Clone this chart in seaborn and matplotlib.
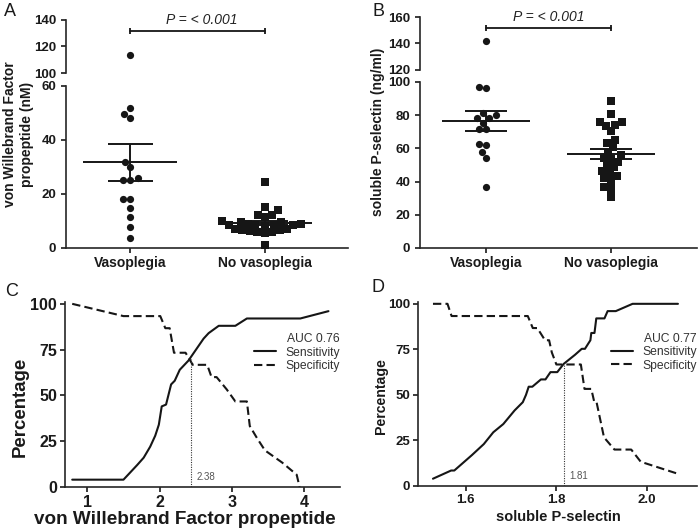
import numpy as np
import matplotlib
matplotlib.use('Agg')
import matplotlib.pyplot as plt
import seaborn as sns

sns.set_style('ticks')
plt.rcParams['font.family'] = ['Liberation Sans', 'DejaVu Sans']
plt.rcParams['font.weight'] = 'bold'
plt.rcParams['axes.linewidth'] = 1.2
plt.rcParams['text.color'] = '#1a1a1a'

INK = '#161616'

groups = ['Vasoplegia', 'No vasoplegia']

# A: von Willebrand Factor propeptide (nM)
vwf_vaso = [113.3, 52.0, 49.6, 48.1, 32.0, 30.1, 25.2, 25.2, 25.8, 18.0, 18.3,
            14.8, 11.4, 7.7, 3.7]
vwf_novaso = [24.3, 15.1, 13.9, 12.4, 12.2, 11.3, 10.0, 9.8, 9.6, 8.9, 8.8, 8.7,
              8.6, 8.5, 8.4, 8.3, 7.2, 7.0, 6.8, 6.5, 6.2, 6.0, 5.8, 5.6, 1.2]

# B: soluble P-selectin (ng/ml)
psel_vaso = [141.8, 96.8, 96.2, 81.2, 80.0, 78.2, 78.2, 75.6, 71.7, 71.7, 62.7,
             62.1, 58.1, 54.5, 36.7]
psel_novaso = [88.7, 80.7, 76.1, 74.1, 70.3, 73.5, 75.7, 65.1, 63.5, 60.7, 57.4,
               56.0, 54.0, 52.0, 50.0, 53.4, 48.6, 46.4, 43.4, 45.0, 42.0, 40.5,
               36.9, 35.7, 30.5]

# C: ROC, von Willebrand Factor propeptide
vwf_sens_x = [0.79, 1.50, 1.69, 1.78, 1.87, 1.94, 1.99, 2.03, 2.09, 2.16, 2.21,
              2.28, 2.40, 2.47, 2.54, 2.61, 2.68, 2.82, 3.05, 3.21, 3.95, 4.34]
vwf_sens_y = [4, 4, 12, 16, 22, 28, 34, 44, 45, 56, 58, 64, 69, 73, 77, 81, 84,
              88, 88, 92, 92, 96]
vwf_spec_x = [0.79, 1.50, 2.01, 2.08, 2.14, 2.20, 2.36, 2.46, 2.66, 2.72, 2.79,
              2.93, 3.05, 3.21, 3.25, 3.35, 3.46, 3.70, 3.90, 3.94]
vwf_spec_y = [100, 93.3, 93.3, 86.7, 86.7, 73.3, 73.3, 66.7, 66.7, 60, 60, 53.3,
              46.7, 46.7, 33.3, 26.7, 20, 13.3, 6.7, 0]
vwf_cut, vwf_cut_y, vwf_cut_text, vwf_auc = 2.43, 70, '2.38', 'AUC 0.76'

# D: ROC, soluble P-selectin
psel_sens_x = [1.528, 1.568, 1.575, 1.614, 1.640, 1.661, 1.683, 1.708, 1.726,
               1.733, 1.739, 1.747, 1.766, 1.776, 1.787, 1.802, 1.816, 1.841,
               1.856, 1.863, 1.875, 1.877, 1.884, 1.888, 1.906, 1.913, 1.931,
               1.968, 2.068]
psel_sens_y = [4, 8.5, 8.5, 17, 23, 29.5, 34, 41.5, 46, 50, 54.5, 54.5, 58.5,
               58.5, 62.5, 62.5, 67, 72, 75.3, 75.3, 80, 84, 84, 92, 92, 96, 96,
               100, 100]
psel_spec_x = [1.528, 1.560, 1.569, 1.737, 1.748, 1.758, 1.775, 1.784, 1.790,
               1.800, 1.854, 1.862, 1.877, 1.883, 1.888, 1.905, 1.928, 1.965,
               1.986, 2.068]
psel_spec_y = [100, 100, 93.3, 93.3, 86.7, 86.7, 80, 80, 73.3, 66.7, 66.7, 53.3,
               53.3, 46.7, 46.7, 26.7, 20, 20, 13.3, 6.7]
psel_cut, psel_cut_y, psel_cut_text, psel_auc = 1.816, 67, '1.81', 'AUC 0.77'

W, H = 700, 530


def box(left, top, right, bottom):
    # pixel box -> figure fraction rect
    return [left / W, 1 - bottom / H, (right - left) / W, (bottom - top) / H]


def dot_panel(ax_top, ax_bot, vaso, novaso, top_lim, bot_lim, top_ticks,
              bot_ticks, xlim, p_y, p_text_x):
    for ax, lim in ((ax_top, top_lim), (ax_bot, bot_lim)):
        for vals, grp, mk in ((vaso, groups[0], 'o'), (novaso, groups[1], 's')):
            vals = np.asarray(vals)
            keep = vals[(vals >= lim[0]) & (vals <= lim[1])]
            if len(keep):
                sns.swarmplot(x=[grp] * len(keep), y=keep, order=groups,
                              marker=mk, color=INK, size=5.2, ax=ax)
        ax.set_ylim(lim)
        ax.set_xlim(xlim)
        ax.tick_params(axis='both', labelsize=9.5, length=3.6, width=1.2,
                       colors='#1a1a1a')
    ax_top.set_yticks(top_ticks)
    ax_bot.set_yticks(bot_ticks)
    sns.despine(ax=ax_bot)
    sns.despine(ax=ax_top, bottom=True)
    ax_top.tick_params(axis='x', bottom=False, labelbottom=False)
    ax_bot.tick_params(axis='x', labelsize=10, pad=2)

    # mean +/- SEM
    for i, vals in enumerate((vaso, novaso)):
        m = np.mean(vals)
        se = np.std(vals, ddof=1) / np.sqrt(len(vals))
        ax_bot.hlines(m, i - 0.35, i + 0.35, color=INK, lw=1.4, zorder=5)
        ax_bot.hlines([m - se, m + se], i - 0.17, i + 0.17, color=INK, lw=1.4,
                      zorder=5)
        ax_bot.vlines(i, m - se, m + se, color=INK, lw=1.4, zorder=5)

    # significance bracket
    cap = (top_lim[1] - top_lim[0]) * 0.065
    ax_top.plot([0, 1], [p_y, p_y], color=INK, lw=1.3, clip_on=False)
    ax_top.vlines([0, 1], p_y - cap, p_y + cap, color=INK, lw=1.3, clip_on=False)
    ax_top.text(p_text_x, p_y + cap * 1.3, 'P = < 0.001', ha='center',
                va='bottom', fontsize=10, fontstyle='italic',
                fontweight='normal', color='#222', clip_on=False)


def roc_panel(ax, sx, sy, px, py, cut, cut_y, cut_text, auc, xlim, xticks,
              tick_size, xfmt):
    sns.lineplot(x=sx, y=sy, sort=False, estimator=None, color=INK, lw=1.5,
                 ax=ax, label='Sensitivity')
    sns.lineplot(x=px, y=py, sort=False, estimator=None, color=INK, lw=1.5,
                 linestyle=(0, (4, 2)), ax=ax, label='Specificity')
    ax.vlines(cut, 0, cut_y, color='#333', lw=0.8, linestyles=(0, (1, 1.2)))
    ax.text(cut + (xlim[1] - xlim[0]) * 0.022, 5.5, cut_text, fontsize=7,
            fontweight='normal', color='#555', va='center')
    ax.set_xlim(xlim)
    ax.set_ylim(0, 101)
    ax.set_xticks(xticks)
    ax.set_xticklabels([xfmt.format(t) for t in xticks])
    ax.set_yticks([0, 25, 50, 75, 100])
    ax.tick_params(axis='both', labelsize=tick_size, length=3.6, width=1.2,
                   colors='#1a1a1a', pad=2)
    sns.despine(ax=ax)
    handles, labels = ax.get_legend_handles_labels()
    leg = ax.legend(handles, labels, title=auc, frameon=False, loc='upper right',
                    bbox_to_anchor=(1.0, 0.83), alignment='right',
                    prop={'weight': 'normal', 'size': 8.7},
                    title_fontproperties={'weight': 'normal', 'size': 8.7},
                    handlelength=1.8, handletextpad=0.8, labelspacing=0.1,
                    borderaxespad=0, borderpad=0, labelcolor='#333')
    leg.get_title().set_color('#333')


fig = plt.figure(figsize=(7, 5.3), dpi=100)

ax_a_top = fig.add_axes(box(66, 20, 348, 73))
ax_a_bot = fig.add_axes(box(66, 86, 348, 248))
ax_b_top = fig.add_axes(box(420, 17, 697, 70))
ax_b_bot = fig.add_axes(box(420, 82, 697, 248))
ax_c = fig.add_axes(box(65, 302, 340, 487))
ax_d = fig.add_axes(box(418, 302, 697, 486))

dot_panel(ax_a_top, ax_a_bot, vwf_vaso, vwf_novaso, (100, 140), (0, 60),
          [100, 120, 140], [0, 20, 40, 60], (-0.48, 1.62), 131.7, 0.53)
dot_panel(ax_b_top, ax_b_bot, psel_vaso, psel_novaso, (120, 160), (0, 100),
          [120, 140, 160], [0, 20, 40, 60, 80, 100], (-0.53, 1.69), 151.7, 0.5)

roc_panel(ax_c, vwf_sens_x, vwf_sens_y, vwf_spec_x, vwf_spec_y, vwf_cut,
          vwf_cut_y, vwf_cut_text, vwf_auc, (0.69, 4.5), [1, 2, 3, 4], 11.5,
          '{:g}')
roc_panel(ax_d, psel_sens_x, psel_sens_y, psel_spec_x, psel_spec_y, psel_cut,
          psel_cut_y, psel_cut_text, psel_auc, (1.495, 2.11), [1.6, 1.8, 2.0],
          9.5, '{:.1f}')

# axis titles
fig.text(18.5 / W, 1 - 134 / H, 'von Willebrand Factor\npropeptide (nM)',
         rotation=90, ha='center', va='center', fontsize=10, linespacing=1.2,
         multialignment='center')
fig.text(378 / W, 1 - 132 / H, 'soluble P-selectin (ng/ml)', rotation=90,
         ha='center', va='center', fontsize=10)
fig.text(20 / W, 1 - 407 / H, 'Percentage', rotation=90, ha='center',
         va='center', fontsize=13.4)
fig.text(185 / W, 1 - 520 / H, 'von Willebrand Factor propeptide', ha='center',
         va='center', fontsize=13.6)
fig.text(381 / W, 1 - 396 / H, 'Percentage', rotation=90, ha='center',
         va='center', fontsize=10.2)
fig.text(558 / W, 1 - 517 / H, 'soluble P-selectin', ha='center', va='center',
         fontsize=10.5)

# panel letters
for letter, x, y in (('A', 10, 12), ('B', 378, 11), ('C', 12, 291), ('D', 378, 288)):
    fig.text(x / W, 1 - y / H, letter, ha='center', va='center', fontsize=13,
             fontweight='normal')

fig.savefig('out.png', dpi=100)
